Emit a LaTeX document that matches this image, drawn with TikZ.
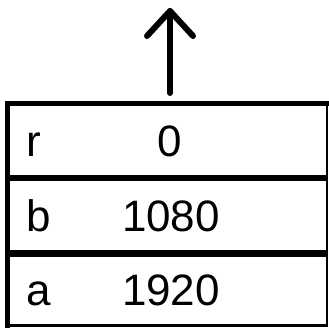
\documentclass[tikz,border=0pt]{standalone}
\usepackage{fontspec}
\setmainfont{Liberation Sans}
\begin{document}
\begin{tikzpicture}[x=1pt,y=1pt,
  cell/.style={inner sep=0pt, font=\fontsize{44}{44}\selectfont, anchor=base},
  key/.style={cell, anchor=base west},
  rowbox/.style={minimum width=319pt, minimum height=72pt, inner sep=0pt, draw=none},
  border/.style={line cap=rect},
  stem/.style={line width=6pt, line cap=round, line join=round}]
\useasboundingbox (0,0) rectangle (329,328);
% rows (invisible containers)
\node[rowbox] (rowr) at (167,187.25) {};
\node[rowbox] (rowb) at (167,112.25) {};
\node[rowbox] (rowa) at (167,38.5) {};
% texts
\node[key] (kr) at (26,171) {r};
\node[cell] (vr) at (170,171) {0};
\node[key] (kb) at (26,96) {b};
\node[cell] (vb) at (171,96) {1080};
\node[key] (ka) at (26,22) {a};
\node[cell] (va) at (171,22) {1920};
% borders
\draw[border, line width=5pt] (7.5,2.5) -- (7.5,224.5);
\draw[border, line width=5pt] (7.5,224.5) -- (326.5,224.5);
\draw[line width=2pt] (326.5,224.5) -- (326.5,2.5);
\draw[border, line width=3pt] (7.5,2.5) -- (326.5,2.5);
\draw[line width=6.5pt] (7.5,150) -- (326.5,150);
\draw[line width=6.5pt] (7.5,74.5) -- (326.5,74.5);
% arrow
\coordinate (base) at (170,235);
\coordinate (tip) at (170,317);
\coordinate (wl) at (147,292);
\coordinate (wr) at (193,292);
\draw[stem] (base) -- (tip);
\draw[stem] (wl) -- (tip) -- (wr);
\end{tikzpicture}
\end{document}
